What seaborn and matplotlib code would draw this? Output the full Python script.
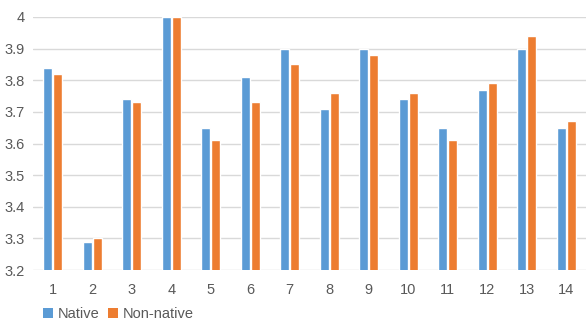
import matplotlib
matplotlib.use("Agg")
import matplotlib.pyplot as plt
import seaborn as sns
import pandas as pd
from matplotlib.patches import Patch

categories = [str(i) for i in range(1, 15)]
native = [3.84, 3.29, 3.74, 4.00, 3.65, 3.81, 3.90, 3.71, 3.90, 3.74, 3.65, 3.77, 3.90, 3.65]
non_native = [3.82, 3.30, 3.73, 4.00, 3.61, 3.73, 3.85, 3.76, 3.88, 3.76, 3.61, 3.79, 3.94, 3.67]
series_names = ["Native", "Non-native"]
y_ticks = [3.2, 3.3, 3.4, 3.5, 3.6, 3.7, 3.8, 3.9, 4.0]
y_labels = ["3.2", "3.3", "3.4", "3.5", "3.6", "3.7", "3.8", "3.9", "4"]

df = pd.DataFrame({
    "item": categories * 2,
    "score": native + non_native,
    "group": [series_names[0]] * len(categories) + [series_names[1]] * len(categories),
})

sns.set_style("white")
plt.rcParams["font.family"] = ["Liberation Sans", "DejaVu Sans"]

colors = ["#5B9BD5", "#ED7D31"]
fig = plt.figure(figsize=(5.86, 3.22), dpi=100)
ax = fig.add_axes([33 / 586, 1 - 270 / 322, 1 - 33 / 586, 253 / 322])

sns.barplot(data=df, x="item", y="score", hue="group", order=categories,
            hue_order=series_names, palette=colors, width=0.52, gap=0.12,
            ax=ax, legend=False, zorder=3, saturation=1)

ax.set_ylim(3.2, 4.0)
ax.set_xlim(-0.5, len(categories) - 0.5)
ax.set_yticks(y_ticks)
ax.set_yticklabels(y_labels)
ax.yaxis.grid(True, color="#d9d9d9", linewidth=1.0, zorder=0)
ax.set_axisbelow(True)
for s in ax.spines.values():
    s.set_visible(False)
ax.tick_params(axis="both", length=0, labelsize=10.5, labelcolor="#595959")
ax.tick_params(axis="y", pad=6)
ax.tick_params(axis="x", pad=9)
ax.set_xlabel("")
ax.set_ylabel("")

handles = [Patch(facecolor=c, edgecolor="none") for c in colors]
fig.legend(handles, series_names, loc="lower left", bbox_to_anchor=(34 / 586, -0.025),
           ncol=2, frameon=False, fontsize=10.5, handlelength=0.7, handleheight=0.7,
           handletextpad=0.3, columnspacing=0.6, labelcolor="#595959", borderaxespad=0.2)

fig.savefig("out.png", dpi=100)
